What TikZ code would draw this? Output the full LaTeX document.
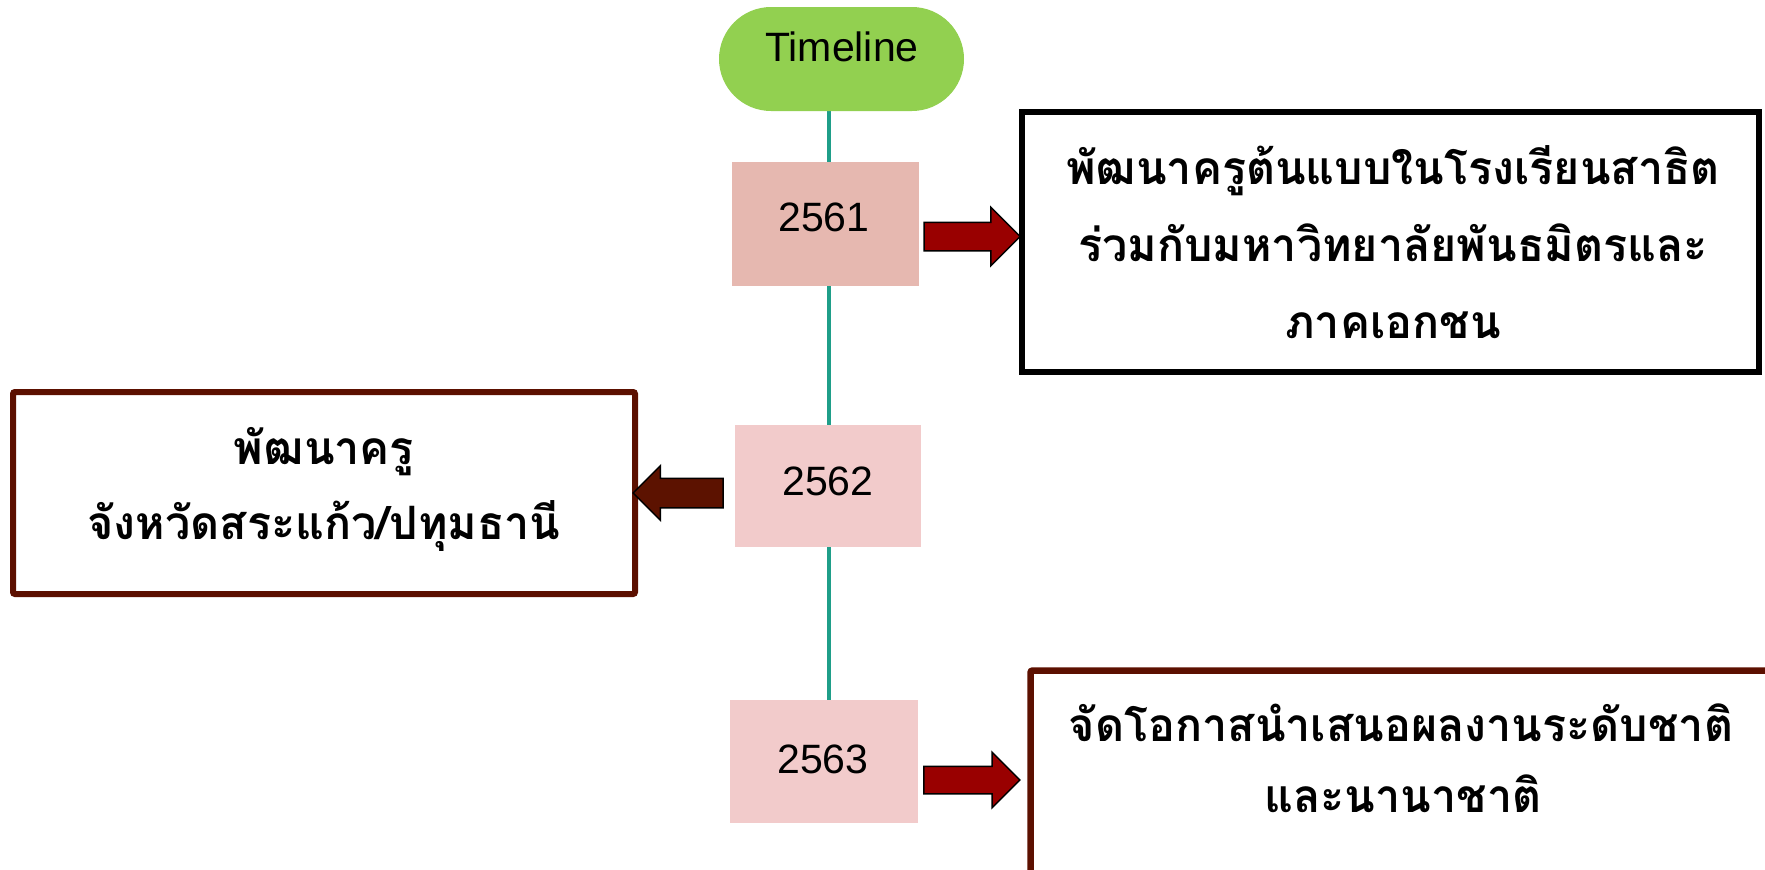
\documentclass[tikz,border=0pt]{standalone}
\usepackage{fontspec}
\setmainfont{Liberation Sans}
\newfontfamily\thaifont[Script=Thai,FakeStretch=0.975]{Loma}
\usetikzlibrary{shapes.arrows}
\definecolor{pillgreen}{HTML}{92D050}
\definecolor{yearA}{HTML}{E6B8B0}
\definecolor{yearB}{HTML}{F2CBCB}
\definecolor{tealline}{HTML}{1F9E89}
\definecolor{arrowred}{HTML}{990000}
\definecolor{arrowbrown}{HTML}{5C1200}
\definecolor{boxbrown}{HTML}{5C1000}
\tikzset{
  pill/.style={rectangle, rounded corners=52pt, fill=pillgreen, draw=none, inner sep=0,
    minimum width=245pt, minimum height=104pt},
  yearbox/.style={rectangle, draw=none, inner sep=0},
  yeartext/.style={anchor=base, inner sep=0, font=\fontsize{41}{41}\selectfont},
  tbox/.style={rectangle, inner sep=0},
  thaitext/.style={anchor=base, inner sep=0, font=\thaifont\bfseries\fontsize{46}{46}\selectfont},
  blockarrow/.style={single arrow, draw=black, line width=1.5pt, inner xsep=0pt,
    single arrow head extend=15pt, line join=miter}
}
\begin{document}
\begin{tikzpicture}[x=1pt,y=-1pt]
\useasboundingbox (0,0) rectangle (1765,870);
% timeline line
\coordinate (ltop) at (829,100);
\coordinate (lbot) at (829,705);
\draw[tealline, line width=4pt] (ltop) -- (lbot);
% pill
\node[pill] (tl) at (841.5,59) {};
\node[yeartext] (tlt) at (842,61) {Timeline};
% year boxes
\node[yearbox, fill=yearA, minimum width=187pt, minimum height=124pt] (y1) at (825.5,224) {};
\node[yearbox, fill=yearB, minimum width=186pt, minimum height=122pt] (y2) at (828,486) {};
\node[yearbox, fill=yearB, minimum width=188pt, minimum height=123pt] (y3) at (824,761.5) {};
\node[yeartext] (y1t) at (824,231) {2561};
\node[yeartext] (y2t) at (828,495) {2562};
\node[yeartext] (y3t) at (823,773) {2563};
% text boxes
\node[tbox, draw=black, line width=6pt, minimum width=737pt, minimum height=260pt] (b1) at (1390.5,242) {};
\node[tbox, draw=boxbrown, line width=6pt, rounded corners=2pt, minimum width=622pt, minimum height=202pt] (b2) at (324,493) {};
\node[tbox, draw=boxbrown, line width=6.5pt, rounded corners=2pt, minimum width=760pt, minimum height=260pt, anchor=north west] (b3) at (1027.3,667.3) {};
% texts
\node[thaitext] (t11) at (1393,184) {พัฒนาครูต้นแบบในโรงเรียนสาธิต};
\node[thaitext] (t12) at (1393,261) {ร่วมกับมหาวิทยาลัยพันธมิตรและ};
\node[thaitext] (t13) at (1393,338) {ภาคเอกชน};
\node[thaitext] (t21) at (324,464) {พัฒนาครู};
\node[thaitext] (t22) at (324,539) {จังหวัดสระแก้ว/ปทุมธานี};
\node[thaitext] (t31) at (1401,741) {จัดโอกาสนำเสนอผลงานระดับชาติ};
\node[thaitext] (t32) at (1403,812) {และนานาชาติ};
% arrows
\node[blockarrow, fill=arrowred, inner ysep=13.5pt, minimum height=96pt] (a1) at (965,236.5) {};
\node[blockarrow, fill=arrowbrown, inner ysep=14pt, single arrow head extend=12.5pt, minimum height=90pt, shape border rotate=180] (a2) at (685.5,493) {};
\node[blockarrow, fill=arrowred, inner ysep=13pt, single arrow head extend=14pt, minimum height=96pt] (a3) at (965,780) {};
\end{tikzpicture}
\end{document}
